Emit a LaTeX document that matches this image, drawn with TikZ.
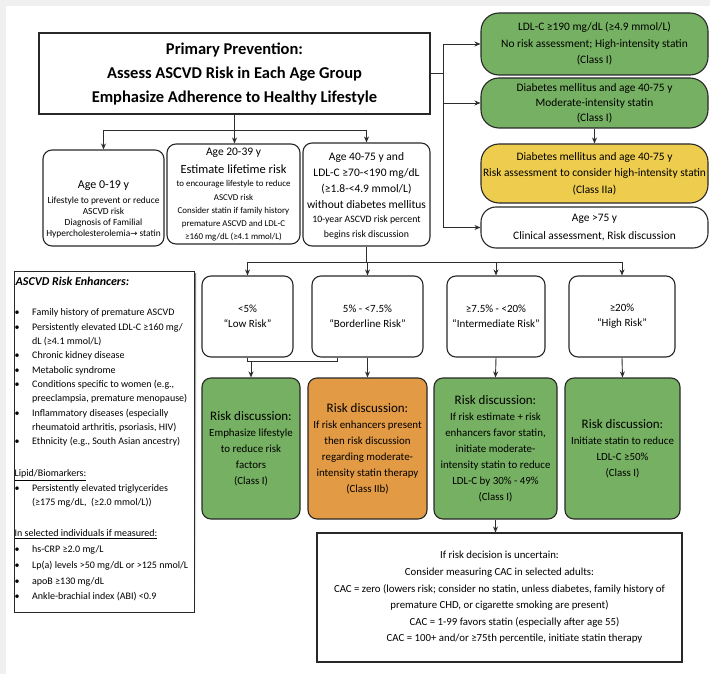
\documentclass[tikz,border=0pt]{standalone}
\usepackage{fontspec}
\setmainfont{Carlito}
\newfontfamily\djv{DejaVu Sans}
\usetikzlibrary{arrows.meta}
\definecolor{gfill}{RGB}{118,176,98}
\definecolor{ofill}{RGB}{226,154,68}
\definecolor{yfill}{RGB}{238,204,78}
\definecolor{bdr}{RGB}{40,40,40}
\definecolor{lnc}{RGB}{45,45,45}
\definecolor{bggray}{RGB}{240,240,240}
\definecolor{shade}{RGB}{150,150,150}
\newcommand{\bul}{\makebox[17.5pt][l]{•}}
\newcommand{\ind}{\hspace*{17.5pt}}
\tikzset{
  box/.style={draw=bdr, line width=1.1pt, inner sep=1pt, align=center, text=black},
  pill/.style={box, rounded corners=18pt},
  rbox/.style={box, rounded corners=9pt},
  txt/.style={inner sep=0pt, align=center, text=black},
  ln/.style={draw=lnc, line width=0.9pt},
  arr/.style={draw=lnc, line width=0.9pt, -{Stealth[length=6pt,width=5pt]}},
}
\begin{document}
\begin{tikzpicture}[x=1pt,y=-1pt]
\useasboundingbox (0,0) rectangle (710,674);
\fill[bggray] (0,0) rectangle (710,674);
\fill[white] (6,6) rectangle (710,674);

% main box
\node[box, minimum width=391pt, minimum height=81pt, font=\fontsize{16.5}{24}\selectfont\bfseries] (main) at (234.5,73.5)
 {Primary Prevention:\\Assess ASCVD Risk in Each Age Group\\Emphasize Adherence to Healthy Lifestyle};

% right column
\node[pill, fill=gfill, minimum width=227pt, minimum height=62pt, font=\fontsize{11.4}{16.5}\selectfont] (r1) at (594.5,44)
 {LDL-C ≥190 mg/dL (≥4.9 mmol/L)\\No risk assessment; High-intensity statin\\(Class I)};
\node[pill, fill=gfill, minimum width=227pt, minimum height=50pt, font=\fontsize{11.4}{15}\selectfont] (r2) at (594.5,103)
 {Diabetes mellitus and age 40-75 y\\Moderate-intensity statin\\(Class I)};
\node[pill, fill=yfill, minimum width=227pt, minimum height=59pt, inner xsep=0pt, font=\fontsize{11.4}{16.5}\selectfont] (r3) at (594.5,173.5)
 {Diabetes mellitus and age 40-75 y\\Risk assessment to consider high-intensity statin\\(Class IIa)};
\node[pill, rounded corners=15pt, fill=white, minimum width=227pt, minimum height=41pt, font=\fontsize{11.4}{18}\selectfont] (r4) at (594.5,227.5)
 {Age >75 y\\Clinical assessment, Risk discussion};

% age boxes
\node[rbox, minimum width=121pt, minimum height=96pt] (A) at (103.5,198) {};
\node[txt, font=\fontsize{12}{14}\selectfont] (At1) at (103.5,186) {Age 0-19 y};
\node[txt, font=\fontsize{9.4}{11}\selectfont] (At2) at (103.5,217)
 {Lifestyle to prevent or reduce\\ASCVD risk\\Diagnosis of Familial\\Hypercholesterolemia{\djv\fontsize{8.5}{9}\selectfont →} statin};

\node[rbox, minimum width=133pt, minimum height=100pt] (B) at (233.5,194) {};
\node[txt, font=\fontsize{11.5}{13}\selectfont] (Bt1) at (233.5,153) {Age 20-39 y};
\node[txt, font=\fontsize{12.5}{14}\selectfont] (Bt2) at (233.5,169) {Estimate lifetime risk};
\node[txt, font=\fontsize{8.9}{13.2}\selectfont] (Bt3) at (233.5,211)
 {to encourage lifestyle to reduce\\ASCVD risk\\Consider statin if family history\\premature ASCVD and LDL-C\\≥160 mg/dL (≥4.1 mmol/L)};

\node[rbox, minimum width=127pt, minimum height=103pt] (C) at (366.5,194.5) {};
\node[txt, font=\fontsize{11.5}{16}\selectfont] (Ct1) at (366.5,180.5)
 {Age 40-75 y and\\LDL-C ≥70-<190 mg/dL\\(≥1.8-<4.9 mmol/L)\\without diabetes mellitus};
\node[txt, font=\fontsize{9.8}{15}\selectfont] (Ct2) at (366.5,227)
 {10-year ASCVD risk percent\\begins risk discussion};

% risk category boxes
\node[rbox, minimum width=91pt, minimum height=81pt, font=\fontsize{11}{15}\selectfont] (low) at (247.5,316.5) {<5\%\\“Low Risk”};
\node[rbox, minimum width=111pt, minimum height=81pt, font=\fontsize{11}{15}\selectfont] (border) at (367.5,316.5) {5\% - <7.5\%\\“Borderline Risk”};
\node[rbox, minimum width=98pt, minimum height=81pt, font=\fontsize{11}{15}\selectfont] (inter) at (496,316.5) {≥7.5\% - <20\%\\“Intermediate Risk”};
\node[rbox, minimum width=106pt, minimum height=81pt, font=\fontsize{11}{15}\selectfont] (high) at (622,316.5) {≥20\%\\“High Risk”};

% recommendation boxes
\node[rbox, fill=gfill, minimum width=98pt, minimum height=141pt, font=\fontsize{10.9}{16}\selectfont] (G1) at (251,448.5)
 {{\fontsize{13}{16}\selectfont Risk discussion:}\\Emphasize lifestyle\\to reduce risk\\factors\\(Class I)};
\node[rbox, fill=ofill, minimum width=119pt, minimum height=141pt, inner xsep=0pt, font=\fontsize{10.9}{16}\selectfont] (orange) at (367.5,448.5)
 {{\fontsize{13}{16}\selectfont Risk discussion:}\\If risk enhancers present\\then risk discussion\\regarding moderate-\\intensity statin therapy\\(Class IIb)};
\node[rbox, fill=gfill, minimum width=123pt, minimum height=141pt, inner xsep=0pt, font=\fontsize{10.9}{16}\selectfont] (G3) at (495.5,448.5)
 {{\fontsize{13}{16}\selectfont Risk discussion:}\\If risk estimate + risk\\enhancers favor statin,\\initiate moderate-\\intensity statin to reduce\\LDL-C by 30\% - 49\%\\(Class I)};
\node[rbox, fill=gfill, minimum width=115pt, minimum height=141pt, inner xsep=0pt, font=\fontsize{10.9}{16}\selectfont] (G4) at (622.5,448.5)
 {{\fontsize{13}{16}\selectfont Risk discussion:}\\Initiate statin to reduce\\LDL-C ≥50\%\\(Class I)};

% CAC box
\node[box, minimum width=365pt, minimum height=129pt, font=\fontsize{10.8}{16.6}\selectfont] (cac) at (499.5,597.5)
 {If risk decision is uncertain:\\Consider measuring CAC in selected adults:\\CAC = zero (lowers risk; consider no statin, unless diabetes, family history of\\premature CHD, or cigarette smoking are present)\\\hspace*{30pt}CAC = 1-99 favors statin (especially after age 55)\\\hspace*{30pt}CAC = 100+ and/or ≥75th percentile, initiate statin therapy};

% risk enhancers panel
\fill[shade] (16,273) rectangle (196,614);
\node[draw=bdr, line width=0.8pt, fill=white, minimum width=180pt, minimum height=341pt, inner sep=0pt] (enh) at (104,441.5) {};
\node[txt, anchor=west, font=\fontsize{12}{14}\selectfont\bfseries\itshape] (e0) at (15.5,281) {ASCVD Risk Enhancers:};
\node[txt, anchor=north west, align=left, font=\fontsize{10}{14.33}\selectfont] (e1) at (14.5,308.7)
 {\bul Family history of premature ASCVD\\
  \bul Persistently elevated LDL-C ≥160 mg/\\
  \ind dL (≥4.1 mmol/L)\\
  \bul Chronic kidney disease\\
  \bul Metabolic syndrome\\
  \bul Conditions specific to women (e.g.,\\
  \ind preeclampsia, premature menopause)\\
  \bul Inflammatory diseases (especially\\
  \ind rheumatoid arthritis, psoriasis, HIV)\\
  \bul Ethnicity (e.g., South Asian ancestry)};
\node[txt, anchor=north west, align=left, font=\fontsize{10}{14.5}\selectfont] (e2) at (14.5,469.7)
 {\underline{Lipid/Biomarkers:}\\
  \bul Persistently elevated triglycerides\\
  \ind (≥175 mg/dL,\ \ (≥2.0 mmol/L))};
\node[txt, anchor=north west, align=left, font=\fontsize{10}{15.75}\selectfont] (e3) at (14.5,529.7)
 {\underline{In selected individuals if measured:}\\
  \bul hs-CRP ≥2.0 mg/L\\
  \bul Lp(a) levels >50 mg/dL or >125 nmol/L\\
  \bul apoB ≥130 mg/dL\\
  \bul Ankle-brachial index (ABI) <0.9};

% connectors
\coordinate (bus1) at (0,130);
\coordinate (spine) at (443,0);
\coordinate (bus2) at (0,262);
\coordinate (brk) at (0,361);
\coordinate (brx) at (337,0);

\draw[ln] (main.south) -- (main.south|-bus1);
\draw[arr] (main.south|-bus1) -| (A.north);
\draw[arr] (main.south|-bus1) -- (main.south|-B.north);
\draw[arr] (main.south|-bus1) -| (C.north);

\draw[ln] (main.east) -- (main.east-|spine);
\draw[ln] (spine|-r1.west) -- (spine|-r4.west);
\draw[arr] (spine|-r1.west) -- (r1.west);
\draw[arr] (spine|-r2.west) -- (r2.west);
\draw[arr] (spine|-r4.west) -- (r4.west);
\draw[arr] (r2.south) -- (r3.north);

\draw[ln] (C.south) -- (C.south|-bus2);
\draw[arr] (C.south|-bus2) -| (low.north);
\draw[arr] (C.south|-bus2) -| (border.north);
\draw[arr] (C.south|-bus2) -| (inter.north);
\draw[arr] (C.south|-bus2) -| (high.north);

\draw[ln] (low.south) -- (low.south|-brk) -- (brx|-brk) -- (brx|-border.south);
\draw[arr] (G1.north|-brk) -- (G1.north);
\draw[arr] (border.south) -- (orange.north);
\draw[arr] (inter.south) -- (G3.north);
\draw[arr] (high.south) -- (G4.north);
\draw[arr] (G3.south) -- (G3.south|-cac.north);
\end{tikzpicture}
\end{document}
